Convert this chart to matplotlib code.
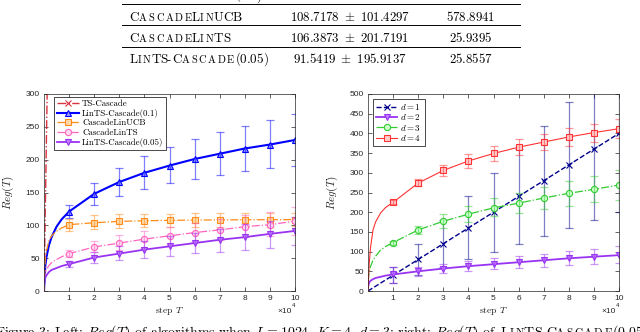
import matplotlib
matplotlib.use('Agg')
import matplotlib.pyplot as plt
from matplotlib.transforms import IdentityTransform
from matplotlib.font_manager import FontProperties, findfont
from matplotlib.ft2font import FT2Font

plt.rcParams['mathtext.fontset'] = 'cm'

# x positions of the curves (steps), markers only at 1e4 .. 1e5
steps = [0, 500, 1000, 2000, 3000, 5000, 7000, 10000, 20000, 30000,
         40000, 50000, 60000, 70000, 80000, 90000, 100000]
mark_steps = steps[7:]
xtick_labels = ['1', '2', '3', '4', '5', '6', '7', '8', '9', '10']

# left panel: algorithms
ts_cascade = [0, 120, 240, 480, 720, 1200, 1680, 2400, 4300, 6000,
              7600, 9100, 10500, 11900, 13200, 14500, 15800]
lints_01 = [0, 38, 52, 70, 82, 98, 109, 121, 148, 166, 180, 191, 201, 209, 217, 223, 230]
lints_01_lo = [111, 131, 145, 155, 164, 171, 177, 182, 187, 191]
lints_01_hi = [131, 164, 187, 205, 219, 232, 242, 252, 260, 269]
linucb = [0, 48, 62, 77, 84, 91, 96, 101, 104, 106, 107, 107.6, 108, 108.3, 108.5, 108.6, 108.7]
linucb_lo = [92, 95, 96, 97, 97, 97, 98, 98, 98, 99]
linucb_hi = [110, 115, 117, 118, 118, 119, 119, 119, 119, 119]
cascadelints = [15, 28, 33, 39, 43, 48, 52, 57, 67, 73, 79, 84, 89, 93, 98, 101, 106.4]
cascadelints_lo = [52, 59, 62, 66, 70, 74, 78, 82, 84, 85]
cascadelints_hi = [62, 76, 85, 91, 97, 103, 109, 115, 121, 128]
lints_005 = [10, 20, 24, 29, 32, 35, 38, 41, 51, 57, 63, 68, 73, 78, 82, 87, 91.5]
lints_005_lo = [36, 43, 47, 51, 54, 58, 60, 63, 66, 70]
lints_005_hi = [46, 59, 68, 76, 83, 88, 95, 102, 107, 113]

# right panel: dimension d
d1 = [0, 2, 4, 8, 12, 20, 28, 40, 80, 120, 160, 200, 240, 280, 320, 360, 400]
d1_lo = [20, 40, 60, 80, 100, 120, 140, 160, 180, 200]
d1_hi = [60, 120, 180, 240, 300, 360, 420, 480, 540, 600]
d2 = [10, 22, 26, 30, 33, 36, 39, 42, 50, 57, 63, 68, 73, 78, 83, 87, 91]
d2_lo = [20, 38, 45, 50, 55, 58, 62, 65, 68, 70]
d2_hi = [60, 62, 68, 77, 85, 90, 95, 102, 107, 113]
d3 = [25, 50, 62, 78, 88, 104, 113, 123, 155, 177, 195, 211, 223, 236, 248, 258, 269]
d3_lo = [118, 145, 160, 175, 190, 197, 207, 217, 225, 232]
d3_hi = [128, 166, 195, 215, 235, 250, 265, 278, 292, 306]
d4 = [0, 70, 110, 155, 175, 198, 212, 225, 274, 306, 330, 349, 365, 378, 391, 402, 412]
d4_lo = [220, 266, 292, 313, 331, 345, 357, 369, 379, 388]
d4_hi = [231, 285, 320, 347, 368, 385, 399, 413, 425, 437]

# table rows above the figure
table_rows = [
    ('LinTS-Cascade(0.1)', r'$230.0259\ \pm\ 332.2167$', r'$25.6545$'),
    ('CascadeLinUCB', r'$108.7178\ \pm\ 101.4297$', r'$578.8941$'),
    ('CascadeLinTS', r'$106.3873\ \pm\ 201.7191$', r'$25.9395$'),
    ('LinTS-Cascade(0.05)', r'$91.5419\ \pm\ 195.9137$', r'$25.8557$'),
]

W, H = 640, 332
fig = plt.figure(figsize=(W / 100, H / 100), dpi=100)
renderer = fig.canvas.get_renderer()
px = IdentityTransform()
GRAY = '0.15'
cm_font = FT2Font(findfont(FontProperties(family='cmr10')))


def glyph_metrics(ch, size):
    cm_font.set_size(size, 100)
    g = cm_font.load_char(ord(ch))
    return g.linearHoriAdvance / 65536, g.horiBearingX / 64


def draw_sc(x, y, s, size, small=0.8, track=1.8):
    # fake small caps: lowercase letters drawn as smaller, spaced capitals
    prev_small = False
    for ch in s:
        is_small = ch.islower()
        if is_small and prev_small:
            x += track
        sz = size * small if is_small else size
        c = ch.upper()
        adv, lsb = glyph_metrics(c, sz)
        fig.text(x + lsb, H - y, c, fontsize=sz, family='cmr10',
                 transform=px, va='baseline', ha='left')
        x += adv
        prev_small = is_small
    return x


# table
for i, (name, val, t) in enumerate(table_rows):
    base = -0.6 + 21.2 * i
    draw_sc(129, base, name, 9.4)
    fig.text(350, H - base, val, fontsize=9.2, transform=px, ha='center', va='baseline')
    fig.text(471, H - base, t, fontsize=9.2, transform=px, ha='center', va='baseline')
for yl in [4.2, 25.4, 46.6]:
    fig.add_artist(plt.Line2D([122, 520], [H - yl, H - yl], transform=px, color='k', lw=0.7))

# caption (cut at the bottom of the image)
csize = 10
cap = fig.text(-5, H - 336, r'Figure 3: Left: $Reg(T)$ of algorithms when $L = 1024$, $K = 4$, $d = 3$; right: $Reg(T)$ of',
               fontsize=csize, family='cmr10', transform=px, va='baseline')
cx = cap.get_window_extent(renderer).x1 + 4
draw_sc(cx, 336, 'LinTS-Cascade(0.05)', csize)

tick_font = FontProperties(family='Liberation Sans', size=6)


def style_axes(ax, ymax):
    ax.set_xlim(0, 100000)
    ax.set_ylim(0, ymax)
    ax.set_xticks(mark_steps)
    ax.set_xticklabels(xtick_labels)
    ax.set_yticks(range(0, ymax + 1, 50))
    ax.tick_params(direction='in', top=True, right=True, length=3, width=0.5,
                   colors=GRAY, labelsize=6, pad=3)
    for lab in ax.get_xticklabels() + ax.get_yticklabels():
        lab.set_fontproperties(tick_font)
    for sp in ax.spines.values():
        sp.set_color(GRAY)
        sp.set_linewidth(0.5)
    ax.set_ylabel(r'$Reg(T)$', fontsize=8, color=GRAY, labelpad=7)
    ax.set_xlabel(r'step $T$', fontsize=7, family='cmr10', color=GRAY, labelpad=2)
    ax.text(0.988, -0.085, '×10', transform=ax.transAxes, ha='right', va='top',
            fontproperties=tick_font, color=GRAY)
    ax.text(1.0, -0.085, '4', transform=ax.transAxes, ha='right', va='bottom',
            fontproperties=FontProperties(family='Liberation Sans', size=4.5), color=GRAY)


def series(ax, vals, lo, hi, color, ls, marker, lw, mfc, label, ms=4.5):
    ax.plot(steps, vals, ls=ls, color=color, lw=lw, marker=marker, ms=ms,
            mfc=mfc, mec=color, mew=0.8, markevery=list(range(7, 17)), label=label)
    if lo is not None:
        mid = vals[7:]
        ax.errorbar(mark_steps, mid, yerr=[[m - l for m, l in zip(mid, lo)],
                                            [h - m for m, h in zip(mid, hi)]],
                    fmt='none', ecolor=color, alpha=0.5, elinewidth=0.9, capsize=3,
                    capthick=0.9)


ax1 = fig.add_axes([44 / W, 1 - 291 / H, 251 / W, 197 / H])
red = (0.85, 0.2, 0.25)
blue = (0, 0, 1)
orange = (1, 0.55, 0.1)
pink = (1, 0.4, 0.75)
purple = (0.6, 0.2, 0.95)
series(ax1, ts_cascade, None, None, red, '-.', 'x', 1.0, red, 'TS-Cascade')
series(ax1, lints_01, lints_01_lo, lints_01_hi, blue, '-', '^', 1.5, (0.6, 0.6, 1), 'LinTS-Cascade(0.1)')
series(ax1, linucb, linucb_lo, linucb_hi, orange, '-.', 's', 0.9, (1, 0.85, 0.65), 'CascadeLinUCB')
series(ax1, cascadelints, cascadelints_lo, cascadelints_hi, pink, '-.', 'o', 0.9, (1, 0.85, 0.93), 'CascadeLinTS')
series(ax1, lints_005, lints_005_lo, lints_005_hi, purple, '-', 'v', 1.3, (0.75, 0.5, 1), 'LinTS-Cascade(0.05)')
style_axes(ax1, 300)
leg = ax1.legend(loc='upper left', prop=FontProperties(family='cmr10', size=6.4),
                 fancybox=False, edgecolor='k', framealpha=1, handlelength=2.5,
                 labelspacing=0.12, borderpad=0.3, borderaxespad=0.3,
                 handletextpad=0.35, bbox_to_anchor=(0.03, 1.0))
leg.get_frame().set_linewidth(0.5)

ax2 = fig.add_axes([368 / W, 1 - 291 / H, 251 / W, 197 / H])
navy = (0, 0, 0.55)
green = (0.2, 0.8, 0.2)
red2 = (1, 0.2, 0.2)
series(ax2, d1, d1_lo, d1_hi, navy, '--', 'x', 1.0, navy, r'$d=1$')
series(ax2, d2, d2_lo, d2_hi, purple, '-', 'v', 1.3, (0.75, 0.5, 1), r'$d=2$')
series(ax2, d3, d3_lo, d3_hi, green, '-.', 'o', 0.9, (0.8, 1, 0.8), r'$d=3$')
series(ax2, d4, d4_lo, d4_hi, red2, '-', 's', 0.8, (1, 0.8, 0.8), r'$d=4$')
style_axes(ax2, 500)
leg2 = ax2.legend(loc='upper left', prop=FontProperties(family='cmr10', size=6.5),
                  fancybox=False, edgecolor='k', framealpha=1, handlelength=2.4,
                  labelspacing=0.05, borderpad=0.35, borderaxespad=0.5,
                  handletextpad=0.35)
leg2.get_frame().set_linewidth(0.5)

fig.savefig('out.png', dpi=100)
